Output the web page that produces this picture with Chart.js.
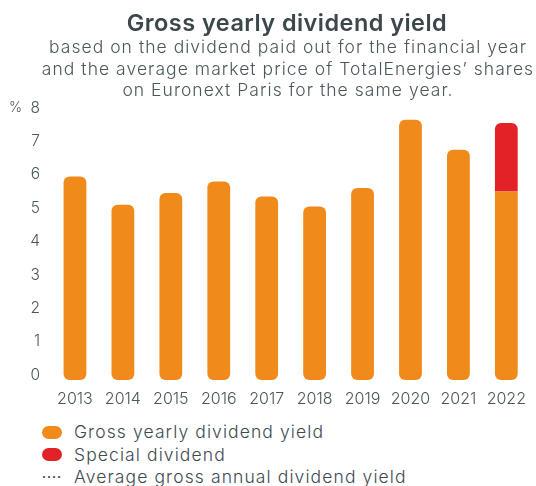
<!DOCTYPE html>
<html>
<head>
<meta charset="utf-8">
<script src="https://cdn.jsdelivr.net/npm/chart.js@4/dist/chart.umd.min.js"></script>
<style>
  html, body { margin: 0; padding: 0; background: #ffffff; }
  #wrap { position: relative; width: 536px; height: 486px; overflow: hidden; }
  #c { position: absolute; left: 0; top: 0; }
  #title { position: absolute; left: 0; width: 574px; top: 9px; text-align: center; font-family: "Inter", "DejaVu Sans", sans-serif; font-size: 23.5px; font-weight: 600; line-height: 28px; color: #3b474b; letter-spacing: 0.45px; white-space: nowrap; }
  #subtitle { position: absolute; left: 0; width: 576px; top: 36px; text-align: center; font-family: "Inter", "DejaVu Sans", sans-serif; font-size: 17.5px; font-weight: 300; line-height: 21.5px; color: #4a575b; letter-spacing: 1.04px; white-space: nowrap; }
  #legend { position: absolute; left: 40px; top: 421px; font-family: "Inter", "DejaVu Sans", sans-serif; font-size: 17.5px; color: #3d4a4f; font-weight: 300; letter-spacing: 1.1px; }
  .row { height: 22.5px; line-height: 22.5px; display: flex; align-items: center; white-space: nowrap; }
  .pill { width: 20px; height: 13px; border-radius: 7px; margin-left: 2px; margin-right: 12px; }
  .dots { width: 20px; margin-left: 2px; margin-right: 12px; font-size: 12px; letter-spacing: 1px; line-height: 12px; font-weight: 700; }
</style>
</head>
<body>
<div id="wrap">
  <canvas id="c" width="536" height="415"></canvas>
  <div id="title"></div>
  <div id="subtitle"></div>
  <div id="legend"></div>
</div>
<script>
const years = ["2013","2014","2015","2016","2017","2018","2019","2020","2021","2022"];
const grossYield = [5.95, 5.1, 5.45, 5.8, 5.35, 5.05, 5.6, 7.65, 6.75, 5.5];
const specialDividend = [null, null, null, null, null, null, null, null, null, 2.05];
const yTicks = [0, 1, 2, 3, 4, 5, 6, 7, 8];
const seriesNames = ["Gross yearly dividend yield", "Special dividend", "Average gross annual dividend yield"];
const titleText = "Gross yearly dividend yield";
const subtitleLines = [
  "based on the dividend paid out for the financial year",
  "and the average market price of TotalEnergies\u2019 shares",
  "on Euronext Paris for the same year."
];

const ORANGE = "#F08A1A";
const RED = "#E32228";
const TEXT = "#4a575b";
const FONT = "'Inter', 'DejaVu Sans', sans-serif";
const lastIdx = years.length - 1;

document.getElementById('title').textContent = titleText;
const sub = document.getElementById('subtitle');
subtitleLines.forEach((line) => {
  const d = document.createElement('div');
  d.textContent = line;
  sub.appendChild(d);
});

const percentPlugin = {
  id: 'percentLabel',
  afterDraw(chart) {
    const y = chart.scales.y;
    const ctx = chart.ctx;
    ctx.save();
    ctx.font = "300 14px " + FONT;
    ctx.fillStyle = TEXT;
    ctx.textAlign = 'left';
    ctx.textBaseline = 'middle';
    ctx.fillText('%', 9, y.getPixelForValue(yTicks[yTicks.length - 1]));
    ctx.restore();
  }
};

new Chart(document.getElementById('c'), {
  type: 'bar',
  data: {
    labels: years,
    datasets: [
      {
        label: seriesNames[0],
        data: grossYield,
        backgroundColor: ORANGE,
        base: -0.15,
        borderSkipped: false,
        borderRadius: (c) => c.dataIndex === lastIdx
          ? {topLeft: 0, topRight: 0, bottomLeft: 6, bottomRight: 6}
          : 6,
        categoryPercentage: 0.5,
        barPercentage: 0.95
      },
      {
        label: seriesNames[1],
        data: specialDividend,
        backgroundColor: RED,
        borderSkipped: false,
        borderRadius: {topLeft: 6, topRight: 6, bottomLeft: 0, bottomRight: 0},
        categoryPercentage: 0.5,
        barPercentage: 0.95
      }
    ]
  },
  options: {
    responsive: false,
    animation: false,
    layout: { padding: { left: 0, right: 0, top: 108, bottom: 0 } },
    plugins: {
      legend: { display: false },
      tooltip: { enabled: false },
      title: { display: false },
      subtitle: { display: false }
    },
    scales: {
      x: {
        stacked: true,
        grid: { display: false, drawTicks: false },
        border: { display: false },
        ticks: { color: TEXT, font: { family: FONT, size: 16, weight: '300' }, padding: 10, maxRotation: 0, autoSkip: false },
        afterFit: (s) => { s.height = 35; }
      },
      y: {
        stacked: true,
        min: -0.15,
        max: 8,
        grid: { display: false, drawTicks: false },
        border: { display: false },
        ticks: { stepSize: 1, color: TEXT, font: { family: FONT, size: 15.5, weight: '300' }, padding: 11 },
        afterBuildTicks: (s) => { s.ticks = yTicks.map(v => ({ value: v })); },
        afterFit: (s) => { s.width = 51; }
      }
    }
  },
  plugins: [percentPlugin]
});

const legendItems = [
  { name: seriesNames[0], kind: 'pill', color: ORANGE },
  { name: seriesNames[1], kind: 'pill', color: RED },
  { name: seriesNames[2], kind: 'dots', color: '#3d4a4f' }
];
const legendEl = document.getElementById('legend');
legendItems.forEach(it => {
  const row = document.createElement('div');
  row.className = 'row';
  const m = document.createElement('span');
  if (it.kind === 'pill') { m.className = 'pill'; m.style.background = it.color; }
  else { m.className = 'dots'; m.textContent = '\u00b7\u00b7\u00b7\u00b7'; m.style.color = it.color; }
  const t = document.createElement('span');
  t.textContent = it.name;
  row.appendChild(m); row.appendChild(t);
  legendEl.appendChild(row);
});
</script>
</body>
</html>
